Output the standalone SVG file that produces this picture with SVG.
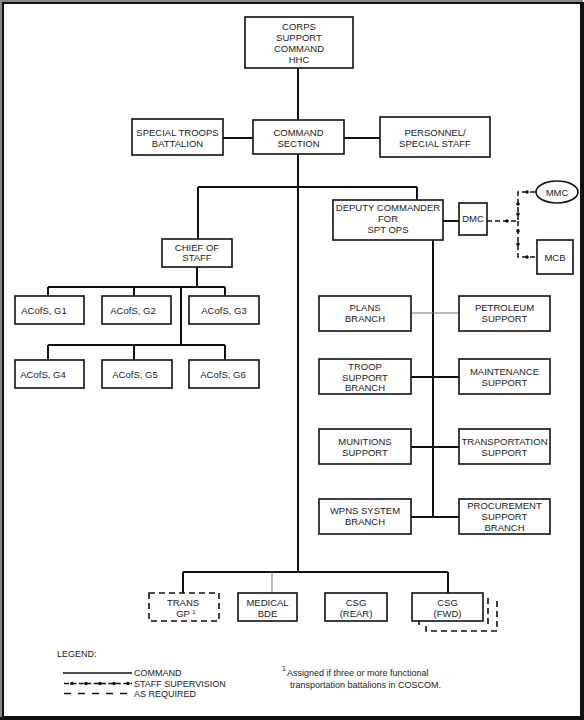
<svg xmlns="http://www.w3.org/2000/svg" width="584" height="720" viewBox="0 0 584 720">
<style>
.b{fill:#fff;stroke:#111;stroke-width:1.6}
.d{fill:none;stroke:#111;stroke-width:1.6;stroke-dasharray:6 4}
.c{fill:none;stroke:#111;stroke-width:2}
.t{fill:none;stroke:#777;stroke-width:1}
.s{fill:none;stroke:#111;stroke-width:1.5;stroke-dasharray:5 3}
.dot{fill:#111}
text{font-family:"Liberation Sans",Arial,sans-serif;font-size:9.5px;fill:#222;text-anchor:middle}
.l{text-anchor:start;font-size:9px}
</style>
<rect x="0" y="0" width="584" height="720" fill="#fff"/>
<rect x="1" y="1" width="581" height="717" fill="none" stroke="#888" stroke-width="2"/>
<rect x="3" y="3" width="578" height="714" fill="none" stroke="#111" stroke-width="2"/>
<line x1="582.5" y1="2" x2="582.5" y2="720" stroke="#111" stroke-width="3"/>
<line x1="0" y1="718.5" x2="584" y2="718.5" stroke="#111" stroke-width="3"/>

<g id="connectors">
<path class="c" d="M298 68V120M223 138H253M344 138H380M298 154V572M198 187H417M198 187V239M417 187V200"/>
<path class="c" d="M197 267V287M48 287H225M48 287V296M134 287V296M225 287V296M181 287V345M48 345H225M48 345V360M134 345V360M225 345V360"/>
<path class="c" d="M443 221H459M433 240V517M411 377H459M411 447H459M411 517H459"/>
<path class="t" d="M411 313H459"/>
<path class="c" d="M183 572H448M183 572V593M448 572V593"/>
<path class="t" d="M272 572V593"/>
<path class="s" d="M487 221H518V192H536M518 221V257H537"/>
<circle class="dot" cx="507" cy="221" r="1.8"/>
<circle class="dot" cx="527" cy="192" r="1.8"/>
<circle class="dot" cx="518" cy="204" r="1.8"/>
<circle class="dot" cx="518" cy="214" r="1.8"/>
<circle class="dot" cx="518" cy="231" r="1.8"/>
<circle class="dot" cx="518" cy="244" r="1.8"/>
<circle class="dot" cx="527" cy="257" r="1.8"/>
</g>

<g id="corps"><rect class="b" x="245" y="17" width="108" height="51"/><text x="299" y="29.5">CORPS</text><text x="299" y="40.5">SUPPORT</text><text x="299" y="51.5">COMMAND</text><text x="299" y="62.5">HHC</text></g>
<g id="command"><rect class="b" x="253" y="120" width="91" height="34"/><text x="298.5" y="135.5">COMMAND</text><text x="298.5" y="146.5">SECTION</text></g>
<g id="stb"><rect class="b" x="132" y="119" width="91" height="36"/><text x="177.5" y="135.5">SPECIAL TROOPS</text><text x="177.5" y="146.5">BATTALION</text></g>
<g id="personnel"><rect class="b" x="380" y="117" width="110" height="40"/><text x="435" y="135.5">PERSONNEL/</text><text x="435" y="146.5">SPECIAL STAFF</text></g>
<g id="deputy"><rect class="b" x="333" y="200" width="110" height="40"/><text x="388" y="210.5">DEPUTY COMMANDER</text><text x="388" y="221.5">FOR</text><text x="388" y="232.5">SPT OPS</text></g>
<g id="dmc"><rect class="b" x="459" y="203" width="28" height="32"/><text x="473" y="222">DMC</text></g>
<g id="mmc"><ellipse class="b" cx="557" cy="192" rx="21" ry="11"/><text x="557" y="195.5">MMC</text></g>
<g id="mcb"><rect class="b" x="537" y="240" width="36" height="34"/><text x="555" y="261">MCB</text></g>
<g id="chief"><rect class="b" x="162" y="239" width="70" height="28"/><text x="197" y="250.5">CHIEF OF</text><text x="197" y="261">STAFF</text></g>
<g id="g1"><rect class="b" x="15" y="296" width="69" height="28"/><text x="44" y="313.5">ACofS, G1</text></g>
<g id="g2"><rect class="b" x="102" y="296" width="69" height="28"/><text x="133" y="313.5">ACofS, G2</text></g>
<g id="g3"><rect class="b" x="189" y="296" width="70" height="28"/><text x="224" y="313.5">ACofS, G3</text></g>
<g id="g4"><rect class="b" x="15" y="360" width="69" height="28"/><text x="43" y="377.5">ACofS, G4</text></g>
<g id="g5"><rect class="b" x="102" y="360" width="70" height="28"/><text x="135" y="377.5">ACofS, G5</text></g>
<g id="g6"><rect class="b" x="189" y="360" width="70" height="28"/><text x="223" y="377.5">ACofS, G6</text></g>
<g id="plans"><rect class="b" x="319" y="296" width="92" height="35"/><text x="365" y="311">PLANS</text><text x="365" y="321.5">BRANCH</text></g>
<g id="petroleum"><rect class="b" x="459" y="296" width="91" height="35"/><text x="504.5" y="311">PETROLEUM</text><text x="504.5" y="321.5">SUPPORT</text></g>
<g id="troop"><rect class="b" x="319" y="359" width="92" height="35"/><text x="365" y="370">TROOP</text><text x="365" y="380.5">SUPPORT</text><text x="365" y="391">BRANCH</text></g>
<g id="maintenance"><rect class="b" x="459" y="359" width="91" height="35"/><text x="504.5" y="374.5">MAINTENANCE</text><text x="504.5" y="385.5">SUPPORT</text></g>
<g id="munitions"><rect class="b" x="319" y="429" width="92" height="35"/><text x="365" y="444.5">MUNITIONS</text><text x="365" y="455.5">SUPPORT</text></g>
<g id="transportation"><rect class="b" x="459" y="429" width="91" height="35"/><text x="504.5" y="444.5">TRANSPORTATION</text><text x="504.5" y="455.5">SUPPORT</text></g>
<g id="wpns"><rect class="b" x="319" y="499" width="92" height="35"/><text x="365" y="514">WPNS SYSTEM</text><text x="365" y="524.5">BRANCH</text></g>
<g id="procurement"><rect class="b" x="459" y="499" width="91" height="35"/><text x="504.5" y="509">PROCUREMENT</text><text x="504.5" y="520">SUPPORT</text><text x="504.5" y="531">BRANCH</text></g>
<g id="transgp"><rect class="d" x="149" y="593" width="70" height="28"/><text x="183" y="606">TRANS</text><text x="183" y="617">GP</text><text x="194" y="613.5" style="font-size:6px">1</text></g>
<g id="medical"><rect class="b" x="238" y="593" width="59" height="28"/><text x="267.5" y="606">MEDICAL</text><text x="267.5" y="617">BDE</text></g>
<g id="csgrear"><rect class="b" x="325" y="593" width="62" height="28"/><text x="356" y="606">CSG</text><text x="356" y="617">(REAR)</text></g>
<g id="csgfwd"><path class="d" d="M488 598V625M419 621V625M426 626V631H497V597"/><rect class="b" x="412" y="593" width="71" height="28"/><text x="447.5" y="606">CSG</text><text x="447.5" y="617">(FWD)</text></g>

<g id="legend">
<text class="l" x="57" y="657">LEGEND:</text>
<line x1="63" y1="673" x2="132" y2="673" stroke="#111" stroke-width="1.3"/>
<text class="l" x="134" y="676">COMMAND</text>
<line x1="64" y1="683.5" x2="132" y2="683.5" stroke="#111" stroke-width="1.3" stroke-dasharray="5 2.4"/>
<circle class="dot" cx="72" cy="683.5" r="1.8"/><circle class="dot" cx="86" cy="683.5" r="1.8"/><circle class="dot" cx="100" cy="683.5" r="1.8"/><circle class="dot" cx="114" cy="683.5" r="1.8"/><circle class="dot" cx="128" cy="683.5" r="1.8"/>
<text class="l" x="134" y="687">STAFF SUPERVISION</text>
<line x1="64" y1="693.5" x2="132" y2="693.5" stroke="#111" stroke-width="1.3" stroke-dasharray="7 7"/>
<text class="l" x="134" y="697">AS REQUIRED</text>
</g>
<g id="footnote">
<text class="l" x="282" y="671" style="font-size:7px">1</text>
<text class="l" x="287" y="676">Assigned if three or more functional</text>
<text class="l" x="290" y="688">transportation battalions in COSCOM.</text>
</g>
</svg>
